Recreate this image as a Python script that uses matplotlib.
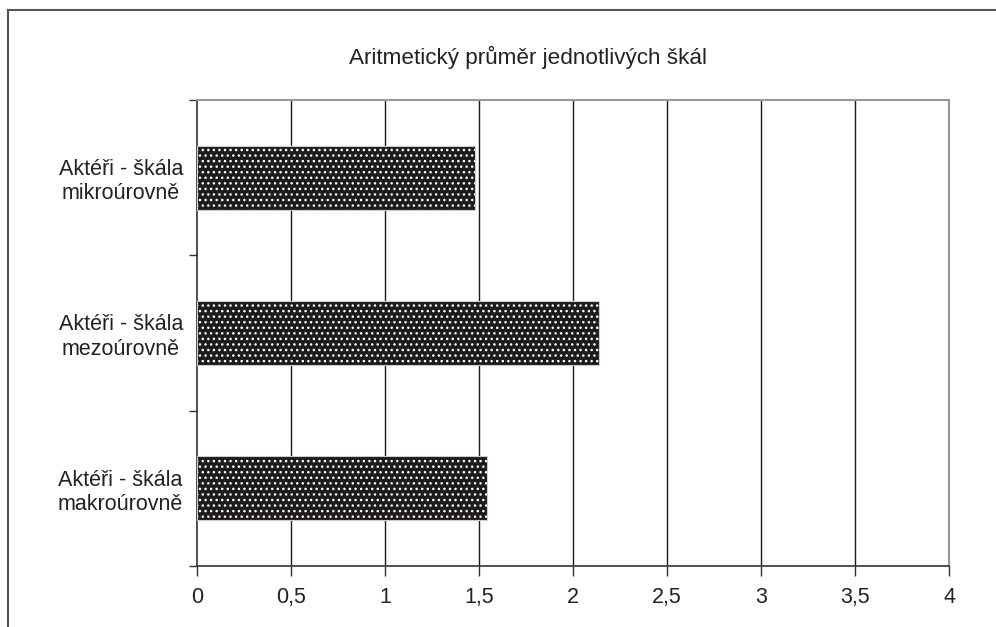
import matplotlib

matplotlib.use("Agg")
import matplotlib.pyplot as plt
from matplotlib.lines import Line2D

# categories top to bottom
categories = [
    "Aktéři - škála\nmikroúrovně",
    "Aktéři - škála\nmezoúrovně",
    "Aktéři - škála\nmakroúrovně",
]
values = [1.48, 2.14, 1.54]
xticks = [0, 0.5, 1, 1.5, 2, 2.5, 3, 3.5, 4]
xtick_labels = ["0", "0,5", "1", "1,5", "2", "2,5", "3", "3,5", "4"]
title = "Aritmetický průměr jednotlivých škál"

plt.rcParams["font.family"] = ["Liberation Sans", "DejaVu Sans"]
plt.rcParams["hatch.linewidth"] = 1.0

W, H = 996, 627
FS = 15.5
fig = plt.figure(figsize=(W / 100, H / 100), dpi=100)
ax = fig.add_axes([197 / W, 1 - 566 / H, (949 - 197) / W, (566 - 100) / H])

ypos = list(range(len(categories)))
ax.barh(ypos, values, height=0.41, color="#1e1b1c", edgecolor="white",
        hatch="...", linewidth=0, zorder=3)
ax.barh(ypos, values, height=0.41, fill=False, edgecolor="#cccccc",
        linewidth=0.8, zorder=4)

ax.set_xlim(0, 4)
ax.set_ylim(len(categories) - 0.5, -0.5)
ax.set_xticks(xticks)
ax.set_xticklabels(xtick_labels, fontsize=FS, color="#222222")
ax.set_yticks(ypos)
ax.set_yticklabels(categories, fontsize=FS, color="#222222",
                   multialignment="center", linespacing=1.2)
ax.tick_params(axis="y", length=0, pad=10)
ax.set_yticks([y - 0.5 for y in range(len(categories) + 1)], minor=True)
ax.tick_params(axis="y", which="minor", length=6, width=1, color="#333333")
ax.tick_params(axis="x", length=7, width=1, color="#333333", pad=8)

ax.xaxis.grid(True, color="#1a1a1a", linewidth=1)
ax.set_axisbelow(True)
ax.get_xgridlines()[-1].set_color("#999999")
ax.get_xgridlines()[0].set_visible(False)

for side in ("left", "bottom"):
    ax.spines[side].set_color("#333333")
    ax.spines[side].set_linewidth(1.2)
for side in ("top", "right"):
    ax.spines[side].set_color("#999999")
    ax.spines[side].set_linewidth(1.5)

fig.text(528 / W, 1 - 57 / H, title, ha="center", va="center",
         fontsize=16.2, color="#222222")

# outer chart frame (runs off the right and bottom edges)
fig.add_artist(Line2D([8 / W, 8 / W], [0, 1 - 10 / H], transform=fig.transFigure,
                      color="#555555", linewidth=1.5))
fig.add_artist(Line2D([8 / W, 1], [1 - 10 / H, 1 - 10 / H], transform=fig.transFigure,
                      color="#555555", linewidth=1.5))

fig.savefig("out.png", dpi=100)
